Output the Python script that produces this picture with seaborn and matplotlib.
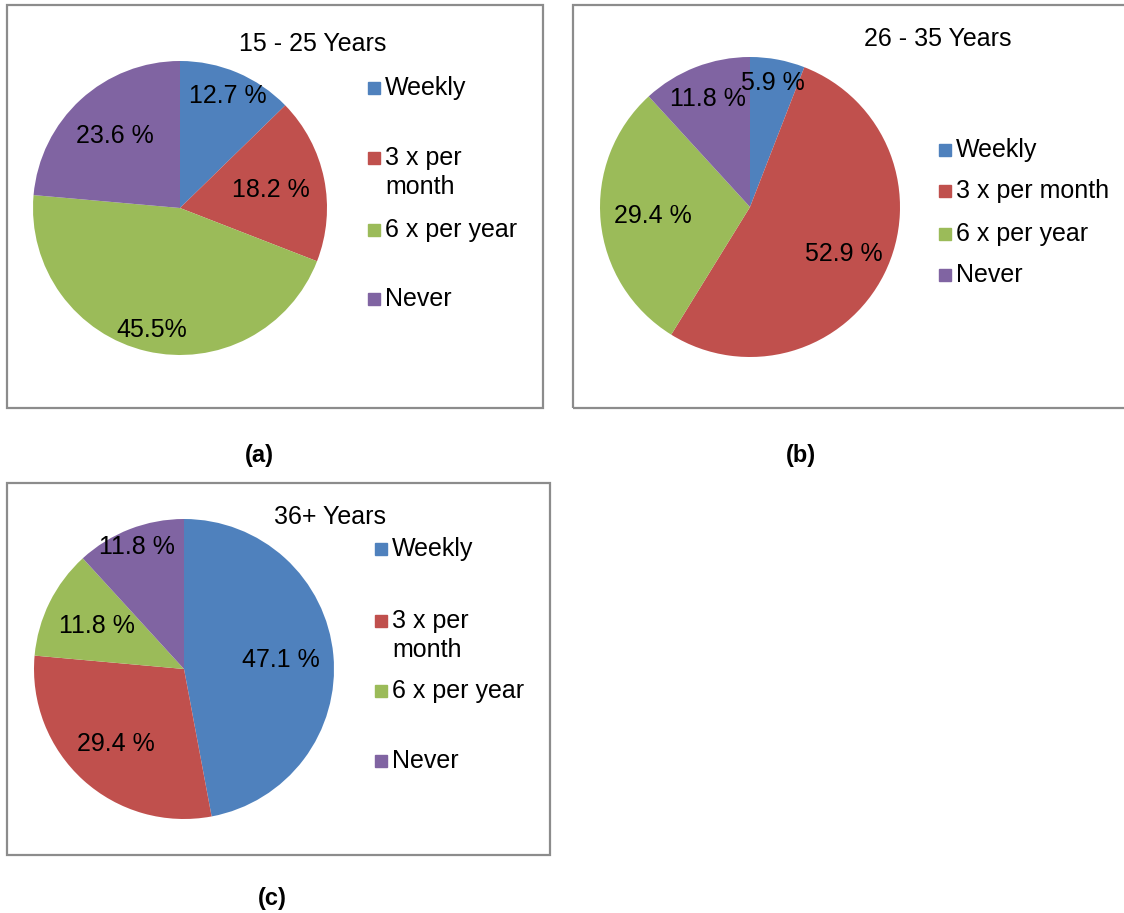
import matplotlib
matplotlib.use("Agg")
import numpy as np
import matplotlib.pyplot as plt
from matplotlib.patches import Rectangle
import seaborn as sns

# data
categories = ["Weekly", "3 x per month", "6 x per year", "Never"]
young = [12.7, 18.2, 45.5, 23.6]
middle = [5.9, 52.9, 29.4, 11.8]
older = [47.1, 29.4, 11.8, 11.8]
young_labels = ["12.7 %", "18.2 %", "45.5%", "23.6 %"]
middle_labels = ["5.9 %", "52.9 %", "29.4 %", "11.8 %"]
older_labels = ["47.1 %", "29.4 %", "11.8 %", "11.8 %"]
titles = ["15 - 25 Years", "26 - 35 Years", "36+ Years"]
panel_tags = ["(a)", "(b)", "(c)"]

sns.set_style("white")
plt.rcParams["font.family"] = ["Liberation Sans", "DejaVu Sans"]
colors = sns.color_palette(["#4F81BD", "#C0504D", "#9BBB59", "#8064A2"])

W, H = 1124, 913
FS = 18
fig = plt.figure(figsize=(W / 100, H / 100), dpi=100)


def fx(x):
    return x / W


def fy(y):
    return 1 - y / H


def frame(x0, y0, x1, y1):
    fig.patches.append(Rectangle((fx(x0), fy(y1)), fx(x1) - fx(x0), fy(y0) - fy(y1),
                                 transform=fig.transFigure, fill=False,
                                 edgecolor="#8c8c8c", linewidth=1.6))


def pie_panel(cx, cy, r, values, labels, dists):
    ax = fig.add_axes([fx(cx - r), fy(cy + r), 2 * r / W, 2 * r / H])
    wedges, _ = ax.pie(values, colors=colors, startangle=90, counterclock=False,
                       radius=1, wedgeprops=dict(linewidth=0))
    for w, lab, d in zip(wedges, labels, dists):
        ang = np.deg2rad((w.theta1 + w.theta2) / 2)
        ax.text(d * np.cos(ang), d * np.sin(ang), lab, ha="center", va="center",
                fontsize=FS, color="black")
    ax.set_xlim(-1, 1)
    ax.set_ylim(-1, 1)
    ax.axis("off")
    return ax


def legend(x, ys, labels):
    for c, y, lab in zip(colors, ys, labels):
        fig.patches.append(Rectangle((fx(x), fy(y + 6)), 12 / W, 12 / H,
                                     transform=fig.transFigure, color=c))
        # draw each line separately so the first line sits beside the marker
        for i, line in enumerate(lab.split("\n")):
            fig.text(fx(x + 17), fy(y + 7 + 29 * i), line, ha="left", va="baseline",
                     fontsize=FS, color="black")


def title(x, y, s):
    fig.text(fx(x), fy(y), s, ha="center", va="center", fontsize=FS, color="black")


def tag(x, y, s):
    fig.text(fx(x), fy(y), s, ha="center", va="center", fontsize=17,
             fontweight="bold", color="black")


# panel (a)
frame(7, 5, 543, 408)
pie_panel(180, 208, 147, young, young_labels, [0.83, 0.63, 0.85, 0.66])
title(313, 44, titles[0])
legend(368, [88, 158, 230, 299], ["Weekly", "3 x per\nmonth", "6 x per year", "Never"])
tag(259, 455, panel_tags[0])

# panel (b)
frame(573, 5, 1130, 408)
pie_panel(750, 207, 150, middle, middle_labels, [0.84, 0.70, 0.65, 0.77])
title(938, 39, titles[1])
legend(939, [150, 191, 234, 275], categories)
tag(801, 455, panel_tags[1])

# panel (c)
frame(7, 483, 550, 855)
pie_panel(184, 669, 150, older, older_labels, [0.65, 0.68, 0.65, 0.87])
title(330, 517, titles[2])
legend(375, [549, 621, 691, 761], ["Weekly", "3 x per\nmonth", "6 x per year", "Never"])
tag(272, 898, panel_tags[2])

fig.savefig("out.png", dpi=100)
